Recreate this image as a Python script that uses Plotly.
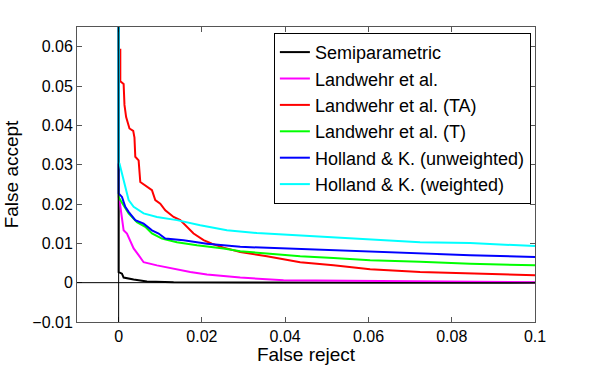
import plotly.graph_objs as go

# ROC-style curves: false reject vs false accept
semi_x = [0, 0, 0.0008, 0.0012, 0.0036, 0.0068, 0.0132, 0.03, 0.1]
semi_y = [0.07, 0.0027, 0.0023, 0.0013, 0.0008, 0.0003, 0.0001, 0.00003, 0.0]

land_x = [0, 0, 0.0002, 0.0006, 0.0012, 0.002, 0.0028, 0.0036, 0.0048, 0.006,
          0.0092, 0.0132, 0.0172, 0.0212, 0.0292, 0.0396, 0.0604, 0.1]
land_y = [0.07, 0.0215, 0.021, 0.0176, 0.0133, 0.0125, 0.0108, 0.0087, 0.007, 0.0052,
          0.0044, 0.0036, 0.0027, 0.0021, 0.0013, 0.0006, 0.0004, 0.0001]

ta_x = [0, 0, 0.0004, 0.0004, 0.0012, 0.0014, 0.0018, 0.0026, 0.0035, 0.0038, 0.004,
        0.0048, 0.0052, 0.0062, 0.008, 0.0088, 0.01, 0.0112, 0.0132, 0.0148, 0.0164,
        0.018, 0.0204, 0.0224, 0.0252, 0.0292, 0.0356, 0.0436, 0.0516, 0.0604, 0.0724,
        0.0844, 0.1]
ta_y = [0.07, 0.0592, 0.0592, 0.0512, 0.0505, 0.0452, 0.0421, 0.0392, 0.0386, 0.0369, 0.032,
        0.0311, 0.0256, 0.0248, 0.0235, 0.021, 0.0201, 0.0184, 0.0167, 0.0159, 0.0142,
        0.0125, 0.0108, 0.0099, 0.0089, 0.0078, 0.0067, 0.0052, 0.0044, 0.0034, 0.0027,
        0.0023, 0.0019]

t_x = [0, 0, 0.0004, 0.0012, 0.0024, 0.0044, 0.0064, 0.008, 0.0104, 0.014, 0.0188,
       0.0252, 0.0292, 0.0356, 0.0436, 0.0516, 0.0604, 0.0724, 0.0844, 0.1]
t_y = [0.07, 0.0218, 0.021, 0.0197, 0.0176, 0.0154, 0.0142, 0.0125, 0.0112, 0.0103, 0.0095,
       0.0087, 0.008, 0.0074, 0.0067, 0.0063, 0.0057, 0.0053, 0.0048, 0.0044]

hk_x = [0, 0, 0.0008, 0.0016, 0.0024, 0.004, 0.006, 0.008, 0.0096, 0.0112, 0.0156,
        0.0212, 0.0292, 0.0396, 0.0516, 0.0604, 0.0724, 0.0844, 0.1]
hk_y = [0.07, 0.0227, 0.0218, 0.0193, 0.018, 0.0159, 0.015, 0.0133, 0.0125, 0.0112, 0.0108,
        0.0099, 0.0091, 0.0087, 0.0082, 0.0078, 0.0074, 0.007, 0.0065]

hkw_x = [0, 0, 0.0002, 0.0008, 0.0016, 0.0024, 0.0036, 0.006, 0.0092, 0.014, 0.0196,
         0.026, 0.0332, 0.0436, 0.0532, 0.0604, 0.0724, 0.0844, 0.1]
hkw_y = [0.07, 0.0305, 0.0303, 0.0278, 0.0244, 0.021, 0.0193, 0.0176, 0.0167, 0.0159, 0.0146,
         0.0133, 0.0126, 0.012, 0.0114, 0.0109, 0.0103, 0.0101, 0.0093]

names = ['Semiparametric', 'Landwehr et al.', 'Landwehr et al. (TA)',
         'Landwehr et al. (T)', 'Holland & K. (unweighted)', 'Holland & K. (weighted)']
colors = ['#000000', '#ff00ff', '#ff0000', '#00ff00', '#0000ff', '#00ffff']
series = [(semi_x, semi_y), (land_x, land_y), (ta_x, ta_y),
          (t_x, t_y), (hk_x, hk_y), (hkw_x, hkw_y)]

x_ticks = [0, 0.02, 0.04, 0.06, 0.08, 0.1]
x_labels = ['0', '0.02', '0.04', '0.06', '0.08', '0.1']
y_ticks = [-0.01, 0, 0.01, 0.02, 0.03, 0.04, 0.05, 0.06]
y_labels = ['\u22120.01', '0', '0.01', '0.02', '0.03', '0.04', '0.05', '0.06']

fig = go.Figure()
for name, col, (xs, ys) in zip(names, colors, series):
    fig.add_trace(go.Scatter(x=xs, y=ys, mode='lines', name=name,
                             line=dict(color=col, width=2)))

# black axes through the origin, drawn on top like MATLAB
fig.add_shape(type='line', x0=0, x1=0, y0=-0.01, y1=0.065, xref='x', yref='y',
              line=dict(color='black', width=1), layer='above')
fig.add_shape(type='line', x0=-0.01, x1=0.1, y0=0, y1=0, xref='x', yref='y',
              line=dict(color='black', width=1), layer='above')

font = 'Liberation Sans, Arial, Helvetica, sans-serif'
axis_common = dict(showgrid=False, zeroline=False, showline=True, linecolor='#555',
                   linewidth=1, mirror='ticks', ticks='inside', ticklen=5,
                   tickcolor='#555', tickfont=dict(size=16, color='black'),
                   automargin=False)

fig.update_layout(
    width=592, height=365,
    margin=dict(l=77, r=57, t=27, b=43),
    paper_bgcolor='white', plot_bgcolor='white',
    font=dict(family=font, color='black'),
    xaxis=dict(range=[-0.01, 0.1], tickvals=x_ticks, ticktext=x_labels,
               title=dict(text='False reject', font=dict(size=19), standoff=0),
               **axis_common),
    yaxis=dict(range=[-0.01, 0.065], tickvals=y_ticks, ticktext=y_labels,
               title=dict(text='False accept', font=dict(size=19), standoff=8),
               **axis_common),
    legend=dict(x=0.991, y=0.98, xanchor='right', yanchor='top',
                bgcolor='white', bordercolor='black', borderwidth=1,
                font=dict(size=18), tracegroupgap=0, itemwidth=30),
    showlegend=True,
)

# drop the page's default body margin so the figure sits at the window corner
fig.write_html("out.html", config={'displayModeBar': False},
               post_script="document.body.style.margin='0';")
